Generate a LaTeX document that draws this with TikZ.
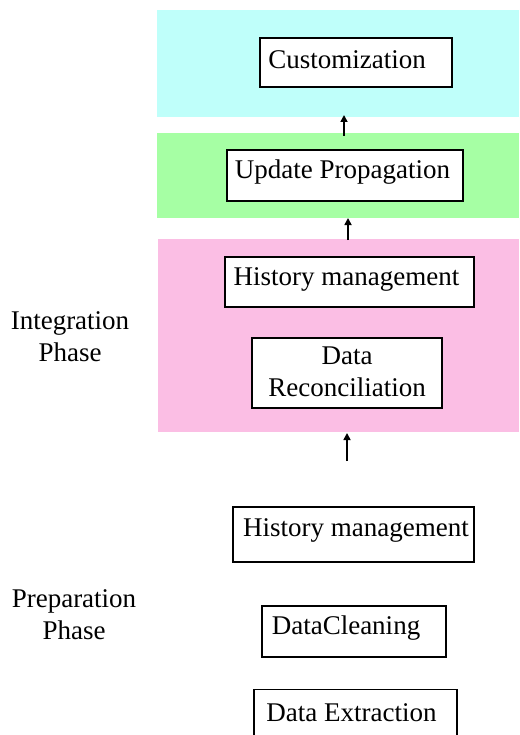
\documentclass[tikz,border=0pt]{standalone}
\usepackage{fontspec}
\setmainfont{Liberation Serif}
\usetikzlibrary{arrows.meta}
\definecolor{custbg}{RGB}{191,255,250}
\definecolor{propbg}{RGB}{166,255,164}
\definecolor{integbg}{RGB}{251,190,228}
\tikzset{
  stagebox/.style={draw=black, line width=1.2pt, fill=white, inner sep=0pt},
  stagetext/.style={font=\fontsize{27}{32}\selectfont, align=center, inner sep=0pt},
  phaselabel/.style={font=\fontsize{27}{32}\selectfont, align=center, inner sep=0pt},
  flow/.style={line width=1.6pt, -{Triangle[length=7pt,width=7pt]}},
}
\begin{document}
\begin{tikzpicture}[x=1pt, y=-1pt]
  \useasboundingbox (0,0) rectangle (519,735);
  \clip (0,0) rectangle (519,735);

  % coloured phase bands
  \fill[custbg]  (157,10)  rectangle (519,117);
  \fill[propbg]  (157,133) rectangle (519,218);
  \fill[integbg] (158,239) rectangle (519,432);

  % stage boxes
  \node[stagebox, minimum width=192pt, minimum height=49pt] (cust) at (356,62.5) {};
  \node[stagebox, minimum width=236pt, minimum height=51pt] (prop) at (345,175.5) {};
  \node[stagebox, minimum width=249pt, minimum height=50pt] (histi) at (349.5,282) {};
  \node[stagebox, minimum width=190pt, minimum height=70pt] (recon) at (347,373) {};
  \node[stagebox, minimum width=241pt, minimum height=55pt] (histp) at (353.5,534.5) {};
  \node[stagebox, minimum width=184pt, minimum height=51pt] (clean) at (354,631.5) {};
  \node[stagebox, minimum width=203pt, minimum height=56pt, anchor=north] (extr) at (355.5,689) {};

  % box texts
  \node[stagetext] (custt)  at (347,60)    {Customization};
  \node[stagetext] (propt)  at (342.5,172) {Update Propagation};
  \node[stagetext] (histit) at (346.5,279) {History management};
  \node[stagetext] (recont) at (347,372)   {Data\\Reconciliation};
  \node[stagetext] (histpt) at (356,530)   {History management};
  \node[stagetext] (cleant) at (346,628)   {DataCleaning};
  \node[stagetext, anchor=base] (extrt) at (351.5,721) {Data Extraction};

  % phase labels
  \node[phaselabel] (integ) at (70,337) {Integration\\Phase};
  \node[phaselabel] (prep) at (74,615) {Preparation\\Phase};

  % arrows between bands
  \coordinate (a1s) at (344,136);
  \coordinate (a1e) at (344,115);
  \coordinate (a2s) at (348,240);
  \coordinate (a2e) at (348,218);
  \coordinate (a3s) at (347,461);
  \coordinate (a3e) at (347,433);
  \draw[flow] (a1s) -- (a1e);
  \draw[flow] (a2s) -- (a2e);
  \draw[flow] (a3s) -- (a3e);
\end{tikzpicture}
\end{document}
